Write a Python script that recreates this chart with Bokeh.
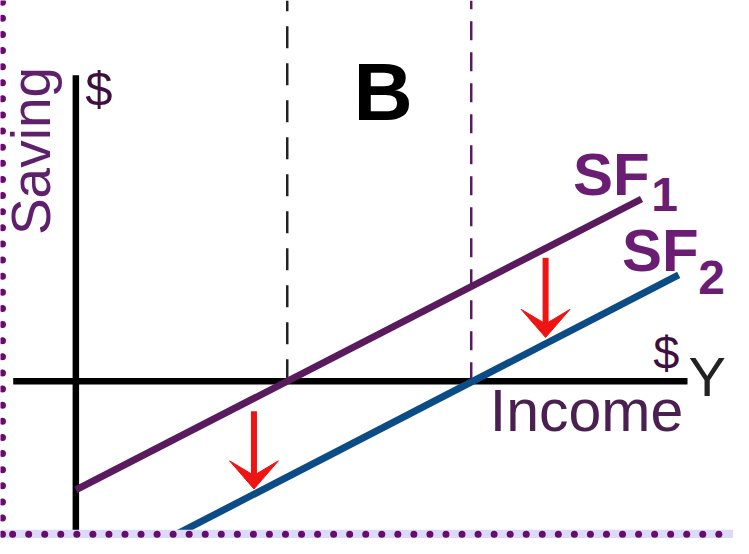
import numpy as np
from bokeh.plotting import figure
from bokeh.models import Range1d
from bokeh.core.properties import value
from bokeh.embed import file_html
from bokeh.resources import INLINE

# ---- data (income on x, saving on y; arbitrary $ units)
sf1_x = [0.0, 28.9]
sf1_y = [-5.6, 9.38]
sf2_x = [5.2, 30.8]
sf2_y = [-7.85, 5.47]
eq_income = [10.8, 20.2]          # where SF1 and SF2 cut the income axis
arrow_x = [9.1, 24.0]
arrow_from = [-1.55, 6.35]
arrow_to = [-5.55, 2.25]
x_axis_span = [-3.2, 31.25]
y_axis_span = [-8.1, 15.75]
dash_top = 19.6

X0, X1 = -3.85, 33.6
Y0, Y1 = -8.1, 19.6

FONT = value("Liberation Sans")
PURPLE_LINE = "#5a1a5e"
BLUE_LINE = "#0c4c86"
PURPLE_TXT = "#6a1d72"
RED = "#ee1414"

p = figure(width=733, height=538, output_backend="svg", toolbar_location=None,
           x_range=Range1d(X0, X1), y_range=Range1d(Y0, Y1),
           x_axis_type=None, y_axis_type=None, min_border=0,
           outline_line_color=None, background_fill_color="white",
           border_fill_color="white")
p.grid.visible = False

# dashed verticals
p.line([eq_income[0]] * 2, [0, dash_top], line_color="#222222", line_width=2.5,
       line_dash="22 15")
p.line([eq_income[1]] * 2, [0, dash_top], line_color=PURPLE_LINE, line_width=2.5,
       line_dash="19 12")

# axes
p.line(x_axis_span, [0, 0], line_color="black", line_width=6.5)
p.line([0, 0], y_axis_span, line_color="black", line_width=6.5)

# saving functions
p.line(sf1_x, sf1_y, line_color=PURPLE_LINE, line_width=7)
p.line(sf2_x, sf2_y, line_color=BLUE_LINE, line_width=7)

# red arrows (shaft + head)
hw, hl, notch = 1.25, 1.45, 0.7
p.segment(x0=arrow_x, y0=arrow_from, x1=arrow_x,
          y1=[t + notch for t in arrow_to], line_color=RED, line_width=6)
p.patches(xs=[[x - hw, x, x + hw, x] for x in arrow_x],
          ys=[[t + hl, t, t + hl, t + notch] for t in arrow_to],
          fill_color=RED, line_color=RED, line_width=1)

# texts (anchored at the glyphs' vertical centre)
def label(x, y, txt, size, color, align="left", bold=False, angle=0.0):
    p.text(x=x, y=y, text=txt, angle=angle, text_font=FONT,
           text_font_size=size, text_color=color, text_align=align,
           text_baseline="middle",
           text_font_style="bold" if bold else "normal")

label([-2.3], [11.85], ["Saving"], "55px", "#5e1f6b", align="center", angle=np.pi / 2)
label([1.18], [15.05], ["$"], "49px", "#3d1040", align="center")
label([15.7], [14.925], ["B"], "82px", "black", align="center", bold=True)
label([25.4, 27.9], [10.65, 6.725], ["SF", "SF"], "60px", PURPLE_TXT, bold=True)
label([29.4, 31.8], [9.6, 5.35], ["1", "2"], "48px", PURPLE_TXT, bold=True)
label([29.5], [1.475], ["$"], "47px", "#3d1040")
label([31.3], [0.225], ["Y"], "56px", "#222222")
label([21.15], [-1.55], ["Income"], "59px", "#4a2050")

# dotted frame decoration (left and bottom edges of the picture)
p.quad(left=[X0], right=[X1], bottom=[Y0], top=[-7.65],
       fill_color="#dcdaf8", line_color=None)
bx = np.arange(-3.23, X1, 0.82)
p.scatter(x=bx, y=[-7.875] * len(bx), size=7, fill_color="#6a0a6e", line_color=None)
ly = np.arange(-7.875, Y1, 0.83)
p.scatter(x=[-3.75] * len(ly), y=ly, size=7, fill_color="#6a0a6e", line_color=None)

open("out.html", "w").write(file_html(p, INLINE))
